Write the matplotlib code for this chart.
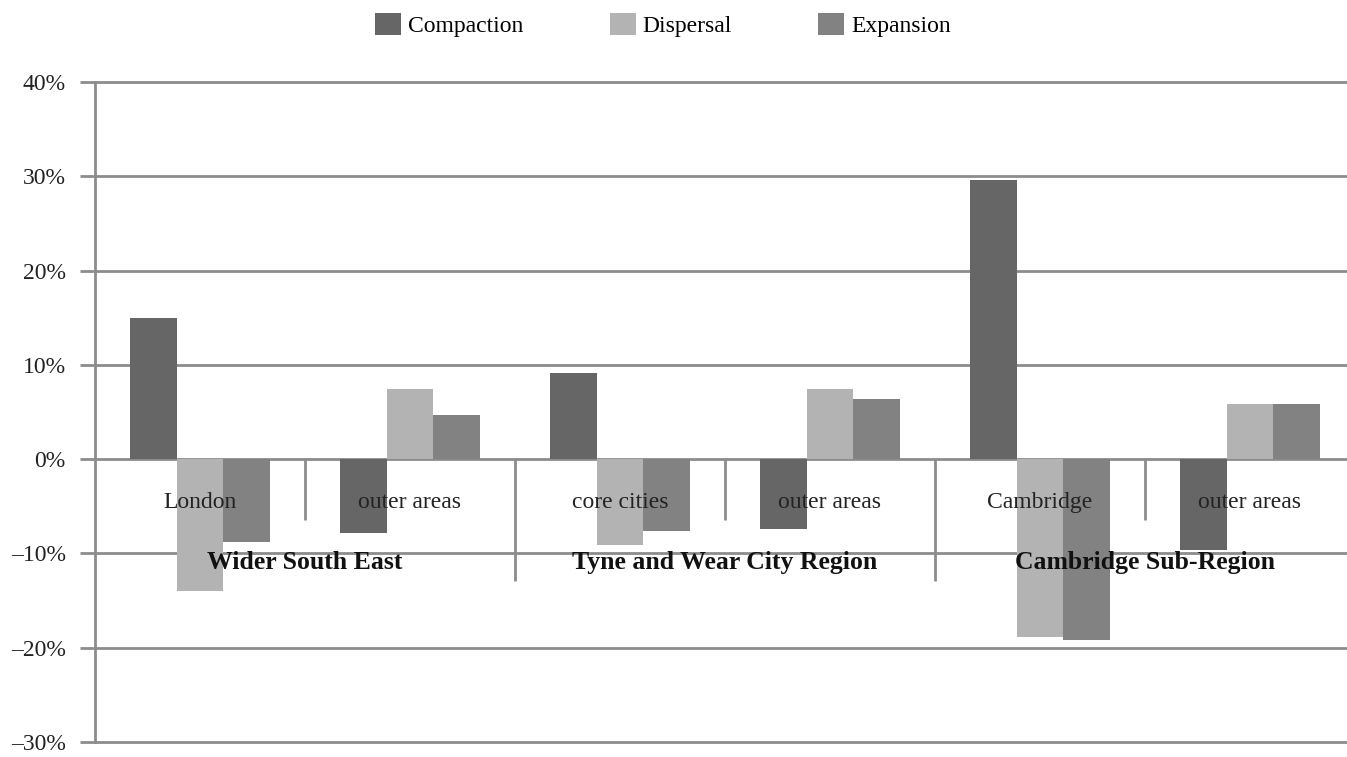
import matplotlib
matplotlib.use("Agg")
import matplotlib.pyplot as plt
from matplotlib.patches import Patch
import numpy as np

subcategories = ["London", "outer areas", "core cities", "outer areas", "Cambridge", "outer areas"]
groups = ["Wider South East", "Tyne and Wear City Region", "Cambridge Sub-Region"]
series = ["Compaction", "Dispersal", "Expansion"]
compaction = [15.0, -7.8, 9.1, -7.4, 29.6, -9.6]
dispersal = [-14.0, 7.4, -9.1, 7.4, -18.9, 5.9]
expansion = [-8.8, 4.7, -7.6, 6.4, -19.2, 5.9]
yticks = [-30, -20, -10, 0, 10, 20, 30, 40]
ytick_labels = ["\u201330%", "\u201320%", "\u201310%", "0%", "10%", "20%", "30%", "40%"]

colors = ["#666666", "#b3b3b3", "#828282"]
grid_c = "#8c8c8c"
serif = ["Liberation Serif", "DejaVu Serif"]
plt.rcParams["font.family"] = serif

W, H = 1347, 757
fig = plt.figure(figsize=(W / 100, H / 100), dpi=100)
left_px, right_px, top_px, bot_px = 95, 1347, 82, 742
ax = fig.add_axes([left_px / W, 1 - bot_px / H, (right_px - left_px) / W, (bot_px - top_px) / H])

cat_w_px = 210.0
span = (right_px - left_px) / cat_w_px
ax.set_xlim(-0.5, -0.5 + span)
ax.set_ylim(-30, 40)

x = np.arange(len(subcategories))
bw = 0.2238
for i, (vals, c, name) in enumerate(zip([compaction, dispersal, expansion], colors, series)):
    ax.bar(x + (i - 1) * bw, vals, width=bw, color=c, edgecolor="none", zorder=3, label=name)

ax.set_yticks(yticks)
ax.set_yticklabels(ytick_labels, fontsize=17, color="#222222")
ax.tick_params(axis="y", length=11, width=2, color=grid_c, pad=10, direction="out")
ax.set_xticks([])
ax.yaxis.grid(True, color=grid_c, linewidth=2, zorder=0)
ax.set_axisbelow(True)
for gl in ax.get_ygridlines():
    gl.set_clip_on(False)
for s in ["top", "right", "bottom"]:
    ax.spines[s].set_visible(False)
ax.spines["left"].set_color(grid_c)
ax.spines["left"].set_linewidth(2)

# separators between categories
for k in range(1, len(subcategories)):
    xs = k - 0.5
    y_end = -12.9 if k % 2 == 0 else -6.5
    ax.plot([xs, xs], [0, y_end], color=grid_c, linewidth=2, zorder=2, solid_capstyle="butt")

# sub-category labels
for xi, lab in zip(x, subcategories):
    ax.text(xi, -4.55, lab, ha="center", va="center", fontsize=17, color="#222222", zorder=5)

# group labels
for gi, g in enumerate(groups):
    ax.text(2 * gi + 0.5, -11.0, g, ha="center", va="center", fontsize=18.5,
            fontweight="bold", color="#111111", zorder=5)

handles = [Patch(facecolor=c, edgecolor="none") for c in colors]
fig.legend(handles, series, loc="center", bbox_to_anchor=(663 / W, 1 - 25 / H), ncol=3,
           frameon=False, fontsize=17, handlelength=1.1, handleheight=1.1,
           handletextpad=0.3, columnspacing=3.65)

fig.savefig("out.png", dpi=100)
